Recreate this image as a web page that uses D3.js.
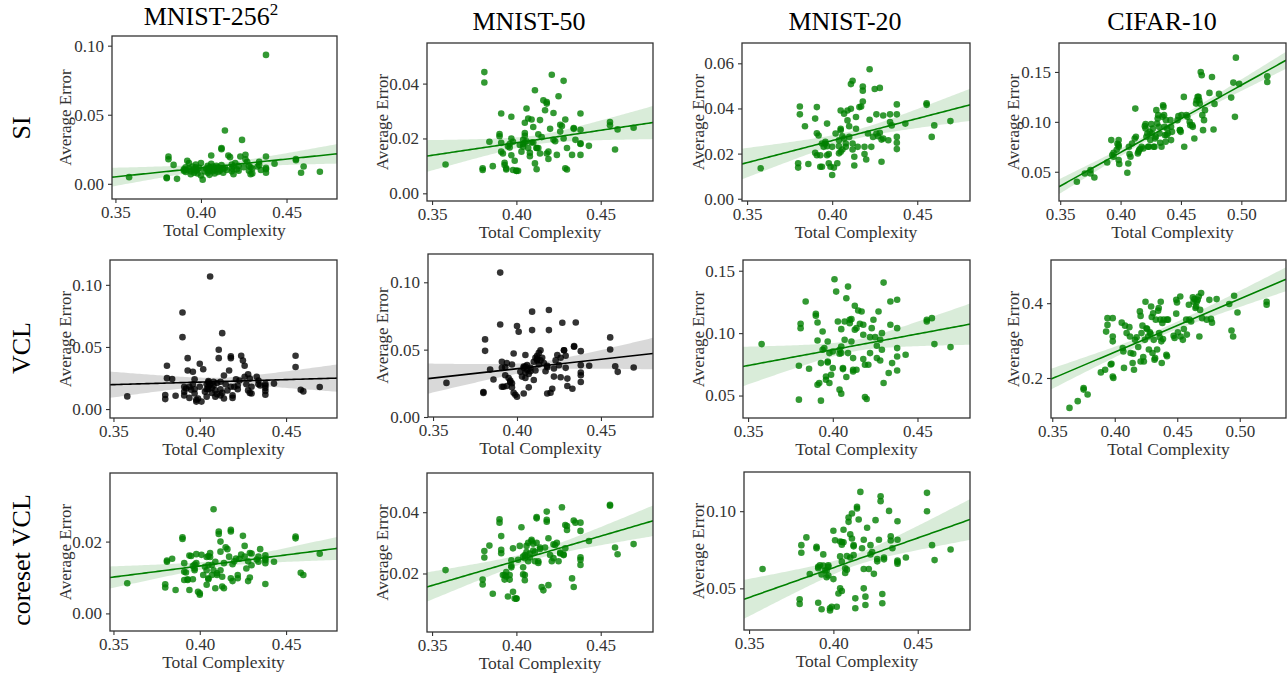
<!DOCTYPE html>
<html><head><meta charset="utf-8">
<script src="https://cdn.jsdelivr.net/npm/d3@7"></script>
<style>body{margin:0;background:#fff}svg{display:block}</style>
</head><body><svg id="c" width="1287" height="676"></svg>
<script>
// ---------------- DATA ----------------
const COLUMN_TITLES = ["MNIST-256", "MNIST-50", "MNIST-20", "CIFAR-10"];
const TITLE_SUPERSCRIPT = ["2", "", "", ""];
const ROW_LABELS = ["SI", "VCL", "coreset VCL"];
const X_LABEL = "Total Complexity";
const Y_LABEL = "Average Error";
const X_TICKS_MNIST = [0.35, 0.40, 0.45];
const X_TICKS_CIFAR = [0.35, 0.40, 0.45, 0.50];

// Total complexity of each task sequence (shared by all MNIST panels)
const X_MNIST = [
 0.358,0.380,0.380,0.381,0.381,0.384,0.386,0.390,0.390,0.391,
 0.391,0.391,0.392,0.393,0.393,0.394,0.394,0.395,0.396,0.396,
 0.397,0.397,0.397,0.398,0.398,0.399,0.400,0.400,0.401,0.402,
 0.403,0.404,0.404,0.404,0.405,0.405,0.405,0.405,0.406,0.406,
 0.407,0.407,0.408,0.408,0.409,0.409,0.410,0.410,0.411,0.411,
 0.412,0.412,0.412,0.413,0.413,0.414,0.414,0.415,0.416,0.417,
 0.418,0.418,0.418,0.419,0.419,0.420,0.421,0.422,0.422,0.423,
 0.424,0.425,0.426,0.426,0.427,0.428,0.428,0.429,0.429,0.430,
 0.430,0.433,0.434,0.434,0.435,0.438,0.438,0.438,0.438,0.438,
 0.443,0.4555,0.4555,0.4585,0.460,0.4695];

const X_CIFAR = [
 0.3638,0.3704,0.3751,0.3751,0.3783,0.3889,0.3923,0.3931,0.3942,0.3942,
 0.3968,0.3974,0.3984,0.3984,0.3984,0.3984,0.3989,0.4056,0.4064,0.4069,
 0.4074,0.4082,0.4095,0.4117,0.4122,0.4127,0.4143,0.4148,0.4154,0.4162,
 0.4175,0.4188,0.4201,0.4207,0.4207,0.4214,0.4222,0.4228,0.4233,0.4241,
 0.4246,0.4254,0.4259,0.4267,0.4273,0.4281,0.4286,0.4291,0.4296,0.4302,
 0.4307,0.4312,0.4318,0.4323,0.4328,0.4339,0.4347,0.4352,0.4355,0.4360,
 0.4365,0.4368,0.4373,0.4376,0.4381,0.4386,0.4392,0.4413,0.4418,0.4418,
 0.4426,0.4471,0.4479,0.4492,0.4492,0.4498,0.4505,0.4524,0.4527,0.4545,
 0.4553,0.4572,0.4577,0.4593,0.4598,0.4611,0.4625,0.4630,0.4638,0.4646,
 0.4651,0.4656,0.4664,0.4672,0.4677,0.4683,0.4691,0.4699,0.4736,0.4757,
 0.4770,0.4778,0.4815,0.4916,0.4934,0.4947,0.4955,0.4982,0.5215,0.5215];

const Y_SI_M256 = [
 0.0048,0.0046,0.0041,0.0198,0.0178,0.0137,0.0036,0.0095,0.0105,0.0120,
 0.0085,0.0100,0.0166,0.0150,0.0110,0.0090,0.0070,0.0125,0.0080,0.0105,
 0.0095,0.0140,0.0120,0.0075,0.0100,0.0115,0.0150,0.0060,0.0030,0.0090,
 0.0110,0.0130,0.0080,0.0100,0.0120,0.0065,0.0095,0.0110,0.0205,0.0145,
 0.0125,0.0090,0.0100,0.0075,0.0110,0.0130,0.0085,0.0120,0.0105,0.0095,
 0.0258,0.0251,0.0135,0.0110,0.0080,0.0386,0.0115,0.0100,0.0205,0.0193,
 0.0140,0.0110,0.0090,0.0125,0.0070,0.0150,0.0105,0.0130,0.0095,0.0198,
 0.0318,0.0120,0.0210,0.0178,0.0160,0.0130,0.0095,0.0070,0.0120,0.0110,
 0.0075,0.0125,0.0160,0.0135,0.0100,0.0933,0.0198,0.0105,0.0080,0.0115,
 0.0145,0.0180,0.0170,0.0080,0.0125,0.0087];
const Y_SI_M50 = [
 0.0105,0.0091,0.0085,0.0442,0.0404,0.0188,0.0099,0.0216,0.0208,0.0291,
 0.0184,0.0152,0.0145,0.0111,0.0103,0.0091,0.0087,0.0172,0.0167,0.0180,
 0.0279,0.0200,0.0139,0.0188,0.0085,0.0119,0.0082,0.0082,0.0082,0.0176,
 0.0152,0.0170,0.0180,0.0195,0.0220,0.0185,0.0210,0.0257,0.0309,0.0190,
 0.0273,0.0165,0.0135,0.0148,0.0185,0.0269,0.0242,0.0185,0.0376,0.0109,
 0.0165,0.0088,0.0165,0.0215,0.0165,0.0145,0.0267,0.0205,0.0339,0.0303,
 0.0333,0.0327,0.0145,0.0152,0.0125,0.0235,0.0432,0.0293,0.0195,0.0190,
 0.0140,0.0354,0.0225,0.0250,0.0245,0.0410,0.0200,0.0269,0.0091,0.0087,
 0.0165,0.0140,0.0235,0.0238,0.0195,0.0291,0.0232,0.0182,0.0180,0.0140,
 0.0173,0.0260,0.0248,0.0160,0.0233,0.0239];
const Y_SI_M20 = [
 0.0135,0.0157,0.0138,0.0409,0.0374,0.0321,0.0154,0.0355,0.0204,0.0406,
 0.0193,0.0290,0.0280,0.0193,0.0142,0.0245,0.0142,0.0230,0.0252,0.0245,
 0.0233,0.0333,0.0193,0.0198,0.0157,0.0142,0.0105,0.0230,0.0138,0.0289,
 0.0157,0.0201,0.0233,0.0259,0.0303,0.0310,0.0391,0.0208,0.0218,0.0277,
 0.0377,0.0267,0.0245,0.0230,0.0347,0.0391,0.0321,0.0274,0.0508,0.0399,
 0.0523,0.0245,0.0218,0.0186,0.0147,0.0310,0.0362,0.0230,0.0406,0.0409,
 0.0479,0.0497,0.0431,0.0230,0.0198,0.0174,0.0289,0.0574,0.0350,0.0230,
 0.0274,0.0486,0.0374,0.0289,0.0277,0.0491,0.0292,0.0262,0.0164,0.0369,
 0.0267,0.0259,0.0374,0.0340,0.0325,0.0418,0.0374,0.0274,0.0248,0.0220,
 0.0333,0.0423,0.0416,0.0274,0.0325,0.0344];
const Y_SI_CIFAR = [
 0.0400,0.0483,0.0517,0.0483,0.0443,0.0593,0.0817,0.0667,0.0690,0.0650,
 0.0720,0.0780,0.0750,0.0767,0.0817,0.0617,0.0577,0.0490,0.0583,0.0750,
 0.0677,0.0650,0.0783,0.0833,0.1133,0.0850,0.0683,0.0700,0.0717,0.0730,
 0.0750,0.0733,0.0957,0.0977,0.0933,0.0850,0.0883,0.0750,0.0750,0.0900,
 0.0817,0.0977,0.0883,0.0933,0.0750,0.0750,0.0833,0.0850,0.1117,0.0983,
 0.1033,0.1067,0.0950,0.0883,0.0790,0.0750,0.1050,0.1167,0.1150,0.1067,
 0.0950,0.0867,0.0800,0.1017,0.0867,0.0933,0.0883,0.1017,0.0817,0.0950,
 0.0900,0.1017,0.1057,0.0917,0.0917,0.0900,0.1067,0.1250,0.0750,0.1067,
 0.1050,0.1000,0.0967,0.0967,0.0950,0.0833,0.1183,0.1217,0.1250,0.1250,
 0.1217,0.1183,0.1500,0.1467,0.1067,0.0917,0.1017,0.1117,0.1290,0.1450,
 0.0923,0.1180,0.1280,0.1243,0.1393,0.1050,0.1643,0.1380,0.1457,0.1400];

const Y_VCL_M256 = [
 0.0102,0.0113,0.0080,0.0349,0.0249,0.0241,0.0107,0.0777,0.0579,0.0140,
 0.0180,0.0110,0.0165,0.0410,0.0310,0.0180,0.0090,0.0155,0.0200,0.0300,
 0.0160,0.0240,0.0125,0.0075,0.0060,0.0085,0.0365,0.0180,0.0060,0.0320,
 0.0140,0.0200,0.0160,0.0100,0.0215,0.0180,0.0160,0.0225,0.1067,0.0200,
 0.0170,0.0130,0.0220,0.0190,0.0150,0.0100,0.0210,0.0120,0.0410,0.0477,
 0.0220,0.0160,0.0110,0.0611,0.0130,0.0085,0.0270,0.0200,0.0150,0.0310,
 0.0410,0.0424,0.0180,0.0110,0.0090,0.0180,0.0240,0.0160,0.0190,0.0230,
 0.0429,0.0390,0.0349,0.0260,0.0200,0.0280,0.0150,0.0245,0.0130,0.0180,
 0.0125,0.0260,0.0200,0.0230,0.0190,0.0204,0.0170,0.0145,0.0115,0.0190,
 0.0205,0.0429,0.0338,0.0155,0.0142,0.0177];
const Y_VCL_M50 = [
 0.0253,0.0179,0.0185,0.0576,0.0491,0.0352,0.0278,0.1072,0.0687,0.0410,
 0.0365,0.0225,0.0225,0.0310,0.0370,0.0230,0.0400,0.0290,0.0260,0.0270,
 0.0250,0.0220,0.0390,0.0471,0.0180,0.0165,0.0150,0.0675,0.0633,0.0335,
 0.0300,0.0375,0.0175,0.0365,0.0460,0.0375,0.0290,0.0330,0.0350,0.0385,
 0.0320,0.0220,0.0365,0.0340,0.0782,0.0645,0.0410,0.0275,0.0345,0.0440,
 0.0430,0.0420,0.0455,0.0390,0.0476,0.0496,0.0420,0.0440,0.0400,0.0340,
 0.0380,0.0370,0.0175,0.0645,0.0794,0.0180,0.0210,0.0300,0.0360,0.0420,
 0.0460,0.0385,0.0440,0.0295,0.0700,0.0496,0.0496,0.0455,0.0365,0.0285,
 0.0230,0.0210,0.0526,0.0521,0.0702,0.0489,0.0385,0.0260,0.0330,0.0310,
 0.0380,0.0591,0.0501,0.0377,0.0335,0.0367];
const Y_VCL_M20 = [
 0.0912,0.0739,0.0467,0.1075,0.1040,0.1253,0.0715,0.1155,0.1139,0.1085,
 0.0941,0.0587,0.0600,0.0760,0.0459,0.1013,0.0867,0.0880,0.0627,0.0653,
 0.0765,0.0773,0.0933,0.0840,0.0600,0.0667,0.0720,0.0853,0.1432,0.1333,
 0.1093,0.0867,0.0835,0.0547,0.0515,0.1032,0.0893,0.0840,0.0720,0.0712,
 0.0947,0.1093,0.1280,0.0648,0.0840,0.1373,0.1080,0.1107,0.1112,0.0933,
 0.0800,0.0707,0.0693,0.1027,0.1219,0.1040,0.0707,0.1181,0.1075,0.1173,
 0.0792,0.0987,0.1067,0.0747,0.0488,0.0472,0.0747,0.0840,0.0968,0.1040,
 0.1107,0.0968,0.0800,0.0899,0.1173,0.0947,0.0781,0.0867,0.1000,0.0600,
 0.1405,0.0680,0.1253,0.1067,0.0760,0.1267,0.1040,0.0880,0.0813,0.0701,
 0.0827,0.1107,0.1093,0.1120,0.0912,0.0888];
const Y_VCL_CIFAR = [
 0.120,0.138,0.173,0.169,0.156,0.215,0.222,0.324,0.342,0.360,
 0.236,0.238,0.360,0.311,0.298,0.204,0.200,0.348,0.280,0.271,
 0.227,0.340,0.320,0.336,0.311,0.267,0.240,0.265,0.222,0.302,
 0.309,0.283,0.378,0.366,0.244,0.320,0.340,0.256,0.244,0.302,
 0.404,0.333,0.331,0.311,0.276,0.322,0.318,0.391,0.363,0.267,
 0.373,0.302,0.249,0.253,0.356,0.276,0.380,0.387,0.320,0.309,
 0.356,0.404,0.298,0.240,0.347,0.304,0.356,0.262,0.356,0.258,
 0.356,0.313,0.307,0.372,0.409,0.402,0.322,0.418,0.311,0.302,
 0.331,0.356,0.316,0.396,0.356,0.351,0.416,0.404,0.411,0.387,
 0.391,0.404,0.409,0.418,0.311,0.382,0.427,0.360,0.356,0.409,
 0.358,0.348,0.411,0.398,0.327,0.311,0.420,0.375,0.404,0.396];

const Y_CVCL_M256 = [
 0.0084,0.0081,0.0072,0.0147,0.0144,0.0152,0.0065,0.0212,0.0207,0.0116,
 0.0093,0.0140,0.0114,0.0095,0.0093,0.0065,0.0161,0.0160,0.0132,0.0095,
 0.0125,0.0136,0.0120,0.0140,0.0165,0.0060,0.0056,0.0052,0.0163,0.0107,
 0.0130,0.0157,0.0120,0.0080,0.0135,0.0098,0.0095,0.0160,0.0157,0.0168,
 0.0135,0.0107,0.0120,0.0290,0.0144,0.0070,0.0107,0.0112,0.0228,0.0221,
 0.0200,0.0172,0.0120,0.0102,0.0075,0.0070,0.0140,0.0184,0.0179,0.0158,
 0.0228,0.0233,0.0098,0.0090,0.0137,0.0145,0.0153,0.0107,0.0098,0.0152,
 0.0164,0.0216,0.0188,0.0158,0.0125,0.0145,0.0090,0.0100,0.0168,0.0167,
 0.0134,0.0150,0.0144,0.0158,0.0179,0.0153,0.0148,0.0082,0.0140,0.0162,
 0.0144,0.0214,0.0209,0.0113,0.0107,0.0166];
const Y_CVCL_M50 = [
 0.0211,0.0180,0.0164,0.0273,0.0252,0.0291,0.0134,0.0377,0.0366,0.0322,
 0.0277,0.0266,0.0195,0.0180,0.0195,0.0190,0.0205,0.0125,0.0180,0.0195,
 0.0220,0.0225,0.0243,0.0282,0.0140,0.0118,0.0118,0.0118,0.0245,0.0290,
 0.0351,0.0220,0.0197,0.0255,0.0250,0.0260,0.0195,0.0178,0.0290,0.0270,
 0.0300,0.0240,0.0265,0.0252,0.0310,0.0305,0.0297,0.0275,0.0240,0.0270,
 0.0300,0.0384,0.0380,0.0240,0.0234,0.0285,0.0280,0.0156,0.0145,0.0285,
 0.0369,0.0402,0.0375,0.0315,0.0162,0.0260,0.0240,0.0250,0.0295,0.0293,
 0.0300,0.0240,0.0265,0.0268,0.0416,0.0262,0.0260,0.0282,0.0358,0.0355,
 0.0342,0.0184,0.0156,0.0373,0.0366,0.0366,0.0339,0.0253,0.0245,0.0228,
 0.0306,0.0424,0.0421,0.0285,0.0263,0.0296];
const Y_CVCL_M20 = [
 0.0625,0.0429,0.0399,0.0780,0.0731,0.0830,0.0593,0.0770,0.0760,0.0640,
 0.0630,0.0407,0.0650,0.0590,0.0364,0.0720,0.0647,0.0615,0.0572,0.0615,
 0.0583,0.0640,0.0650,0.0371,0.0356,0.0381,0.0560,0.0873,0.0812,0.0381,
 0.0467,0.0500,0.0804,0.0707,0.0800,0.0783,0.0673,0.0483,0.0799,0.0880,
 0.0630,0.0600,0.0710,0.0621,0.0931,0.0959,0.0700,0.0850,0.0823,0.0985,
 0.0780,0.0772,0.0715,0.0435,0.0371,0.1017,0.1028,0.0946,0.1125,0.0760,
 0.0815,0.0500,0.0625,0.0392,0.0446,0.0893,0.0625,0.0780,0.0720,0.0735,
 0.0594,0.0942,0.0690,0.0675,0.0815,0.1097,0.1065,0.0463,0.0403,0.0700,
 0.0688,0.1002,0.0837,0.0810,0.0760,0.0815,0.0935,0.0680,0.0660,0.0670,
 0.0700,0.1119,0.1000,0.0780,0.0683,0.0752];

// Fitted regression line: [value at left edge, value at right edge]
const REG_SI   = [[0.0048, 0.0217], [0.0136, 0.0258], [0.0154, 0.0416], [0.0350, 0.1617]];
const REG_VCL  = [[0.0196, 0.0249], [0.0285, 0.0471], [0.0733, 0.1072], [0.1970, 0.4640]];
const REG_CVCL = [[0.0100, 0.0181], [0.0156, 0.0372], [0.0429, 0.0946]];

// ---------------- PANEL SET-UP (layout / styling) ----------------
const SERIF = '"Liberation Serif","Times New Roman",serif';
const GREEN = "#008000", BLACK = "#000000";
const panels = [
 {xs:X_MNIST, ys:Y_SI_M256,  reg:REG_SI[0],  color:GREEN, box:[112,36,337,199],  xd:[0.348,0.4795], yd:[-0.011,0.107],  yt:[0,0.05,0.10],      yf:".2f", xt:X_TICKS_MNIST, ylx:65},
 {xs:X_MNIST, ys:Y_SI_M50,   reg:REG_SI[1],  color:GREEN, box:[427,43,653,201],  xd:[0.347,0.481],  yd:[-0.0028,0.0548],yt:[0,0.02,0.04],      yf:".2f", xt:X_TICKS_MNIST, ylx:382},
 {xs:X_MNIST, ys:Y_SI_M20,   reg:REG_SI[2],  color:GREEN, box:[742,43,970,201],  xd:[0.347,0.481],  yd:[-0.001,0.069],  yt:[0,0.02,0.04,0.06], yf:".2f", xt:X_TICKS_MNIST, ylx:698},
 {xs:X_CIFAR, ys:Y_SI_CIFAR, reg:REG_SI[3],  color:GREEN, box:[1059,43,1286,201],xd:[0.349,0.537],  yd:[0.0207,0.179],  yt:[0.05,0.10,0.15],   yf:".2f", xt:X_TICKS_CIFAR, ylx:1013},
 {xs:X_MNIST, ys:Y_VCL_M256, reg:REG_VCL[0], color:BLACK, box:[110,260,337,418], xd:[0.348,0.4795], yd:[-0.0072,0.120], yt:[0,0.05,0.10],      yf:".2f", xt:X_TICKS_MNIST, ylx:65},
 {xs:X_MNIST, ys:Y_VCL_M50,  reg:REG_VCL[1], color:BLACK, box:[428,254,653,417], xd:[0.347,0.481],  yd:[0,0.121],       yt:[0,0.05,0.10],      yf:".2f", xt:X_TICKS_MNIST, ylx:382},
 {xs:X_MNIST, ys:Y_VCL_M20,  reg:REG_VCL[2], color:GREEN, box:[743,260,970,418], xd:[0.347,0.481],  yd:[0.032,0.1586],  yt:[0.05,0.10,0.15],   yf:".2f", xt:X_TICKS_MNIST, ylx:698},
 {xs:X_CIFAR, ys:Y_VCL_CIFAR,reg:REG_VCL[3], color:GREEN, box:[1051,260,1286,418],xd:[0.349,0.537], yd:[0.093,0.5155],  yt:[0.2,0.4],          yf:".1f", xt:X_TICKS_CIFAR, ylx:1013},
 {xs:X_MNIST, ys:Y_CVCL_M256,reg:REG_CVCL[0],color:GREEN, box:[110,473,337,631], xd:[0.348,0.4795], yd:[-0.0049,0.0391],yt:[0,0.02],           yf:".2f", xt:X_TICKS_MNIST, ylx:65},
 {xs:X_MNIST, ys:Y_CVCL_M50, reg:REG_CVCL[1],color:GREEN, box:[427,473,653,632], xd:[0.347,0.481],  yd:[0.0009,0.0528], yt:[0.02,0.04],        yf:".2f", xt:X_TICKS_MNIST, ylx:382},
 {xs:X_MNIST, ys:Y_CVCL_M20, reg:REG_CVCL[2],color:GREEN, box:[744,472,970,630], xd:[0.347,0.481],  yd:[0.023,0.1254],  yt:[0.05,0.10],        yf:".2f", xt:X_TICKS_MNIST, ylx:698}
];

const svg = d3.select("#c");
const defs = svg.append("defs");

panels.forEach((p, i) => {
  const [x0, y0, x1, y1] = p.box;
  const x = d3.scaleLinear().domain(p.xd).range([x0, x1]);
  const y = d3.scaleLinear().domain(p.yd).range([y1, y0]);
  const g = svg.append("g");
  defs.append("clipPath").attr("id", "clip" + i)
      .append("rect").attr("x", x0).attr("y", y0).attr("width", x1 - x0).attr("height", y1 - y0);

  const pts = p.xs.map((v, k) => [v, p.ys[k]]);

  // scatter
  g.append("g").selectAll("circle").data(pts).join("circle")
    .attr("cx", d => x(d[0])).attr("cy", d => y(d[1])).attr("r", 3.3)
    .attr("fill", p.color).attr("fill-opacity", 0.8);

  // regression line (read values) with 95% confidence band from the scatter's residuals
  const b = (p.reg[1] - p.reg[0]) / (p.xd[1] - p.xd[0]);
  const a = p.reg[0] - b * p.xd[0];
  const n = pts.length;
  const mx = d3.mean(pts, d => d[0]);
  const sxx = d3.sum(pts, d => (d[0] - mx) ** 2);
  const s = Math.sqrt(d3.sum(pts, d => (d[1] - a - b * d[0]) ** 2) / (n - 2));
  const t = 1.984;
  const grid = d3.range(0, 101).map(k => p.xd[0] + (p.xd[1] - p.xd[0]) * k / 100);
  const fit = grid.map(xv => {
    const yh = a + b * xv;
    const h = t * s * Math.sqrt(1 / n + (xv - mx) ** 2 / sxx);
    return {x: xv, y: yh, lo: yh - h, hi: yh + h};
  });
  const cg = g.append("g").attr("clip-path", `url(#clip${i})`);
  cg.append("path").datum(fit)
    .attr("d", d3.area().x(d => x(d.x)).y0(d => y(d.lo)).y1(d => y(d.hi)))
    .attr("fill", p.color).attr("fill-opacity", 0.15);
  cg.append("path").datum(fit)
    .attr("d", d3.line().x(d => x(d.x)).y(d => y(d.y)))
    .attr("fill", "none").attr("stroke", p.color).attr("stroke-width", 1.6);

  // axes
  const ax = g.append("g").attr("transform", `translate(0,${y1})`)
    .call(d3.axisBottom(x).tickValues(p.xt).tickFormat(d3.format(".2f")).tickSize(4).tickPadding(3));
  const ay = g.append("g").attr("transform", `translate(${x0},0)`)
    .call(d3.axisLeft(y).tickValues(p.yt).tickFormat(d3.format(p.yf)).tickSize(4).tickPadding(4));
  [ax, ay].forEach(a2 => {
    a2.select(".domain").remove();
    a2.selectAll("line").attr("stroke", "#333").attr("stroke-width", 1.1);
    a2.selectAll("text").style("font-family", SERIF).style("font-size", "17px").attr("fill", "#333");
  });

  // frame
  g.append("rect").attr("x", x0).attr("y", y0).attr("width", x1 - x0).attr("height", y1 - y0)
    .attr("fill", "none").attr("stroke", "#333").attr("stroke-width", 1.3);

  // axis labels
  g.append("text").attr("x", (x0 + x1) / 2).attr("y", y1 + 31)
    .attr("text-anchor", "middle").attr("dominant-baseline", "central")
    .style("font-family", SERIF).style("font-size", "17.5px").attr("fill", "#333").text(X_LABEL);
  g.append("text").attr("transform", `translate(${p.ylx},${(y0 + y1) / 2}) rotate(-90)`)
    .attr("text-anchor", "middle").attr("dominant-baseline", "central")
    .style("font-family", SERIF).style("font-size", "17px").attr("fill", "#333").text(Y_LABEL);
});

// column titles
const titlePos = [[211, 25], [529, 30], [845, 30], [1162, 30]];
COLUMN_TITLES.forEach((tt, c) => {
  const t = svg.append("text").attr("x", titlePos[c][0]).attr("y", titlePos[c][1])
    .attr("text-anchor", "middle").style("font-family", SERIF).style("font-size", "26px").attr("fill", "#000");
  t.append("tspan").text(tt);
  if (TITLE_SUPERSCRIPT[c]) t.append("tspan").attr("dy", -10).style("font-size", "17px").text(TITLE_SUPERSCRIPT[c]);
});

// row labels
const rowPos = [128, 348, 560];
ROW_LABELS.forEach((r, k) => {
  svg.append("text").attr("transform", `translate(21,${rowPos[k]}) rotate(-90)`)
    .attr("text-anchor", "middle").attr("dominant-baseline", "central")
    .style("font-family", SERIF).style("font-size", "26px").attr("fill", "#000").text(r);
});
</script></body></html>
